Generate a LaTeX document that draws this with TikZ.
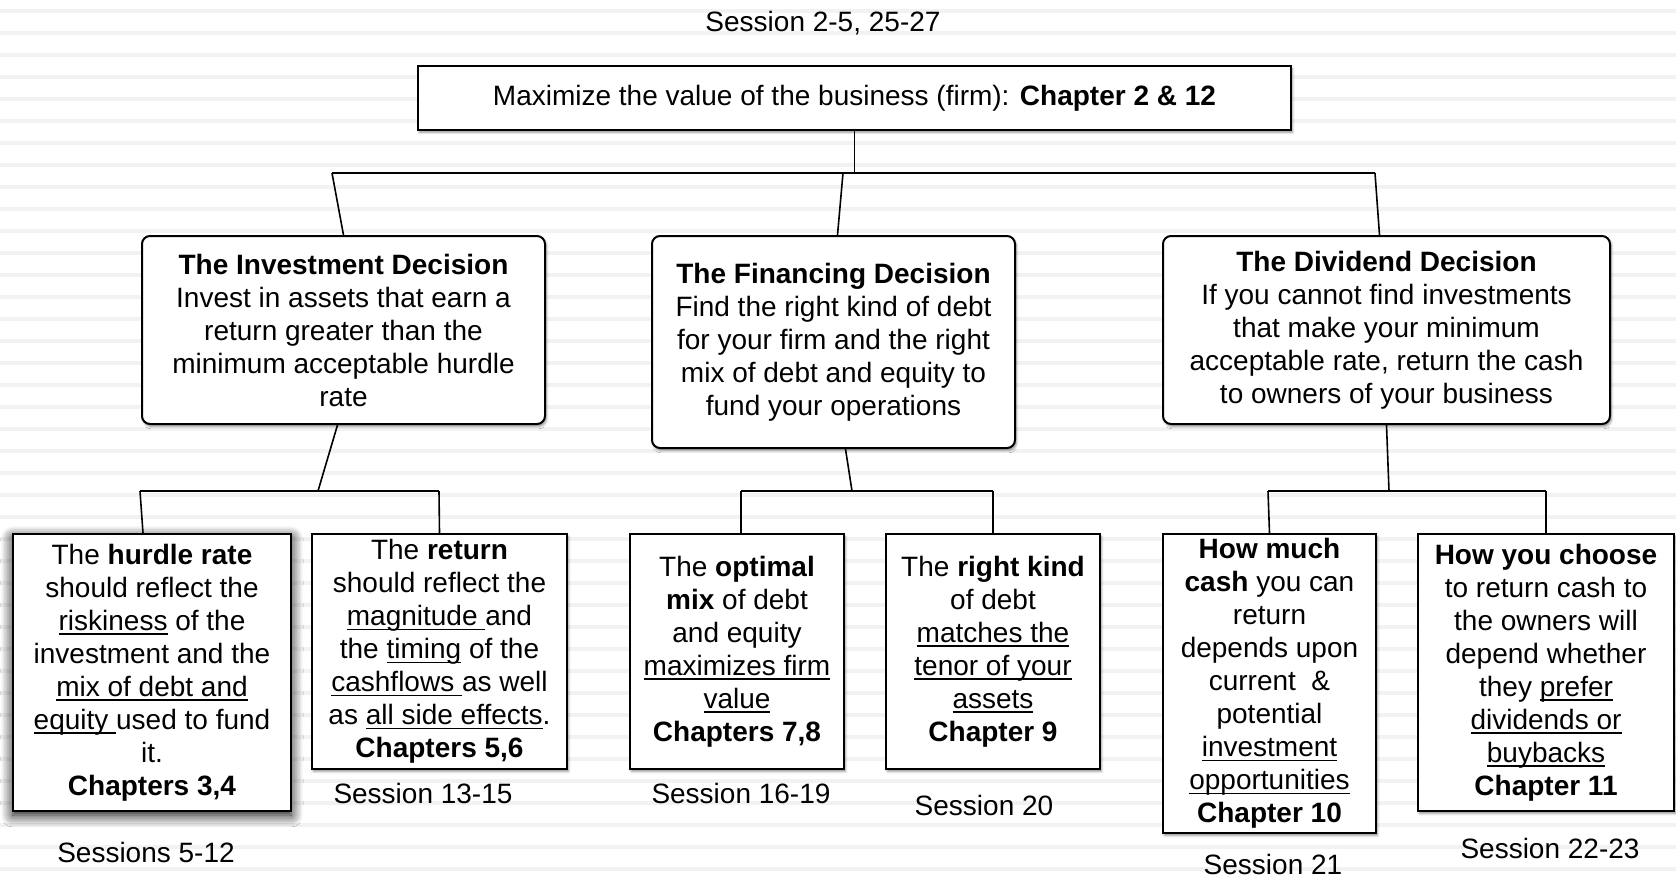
\documentclass[tikz,border=0pt]{standalone}
\usepackage{fontspec}
\setmainfont{Liberation Sans}
\usetikzlibrary{shadows.blur}

\newcommand{\sotto}[1]{\setbox0=\hbox{#1}\rlap{\rule[-2.2pt]{\wd0}{0.8pt}}\box0\relax}

\tikzset{
    testo/.style={font=\fontsize{14pt}{16.5pt}\selectfont, align=center, inner sep=0pt},
    box/.style={testo, draw, fill=white, line width=1pt},
    ombra/.style={blur shadow={shadow xshift=0.7pt, shadow yshift=-1.2pt, shadow blur radius=1.2pt, shadow opacity=45}},
    capitolo/.style={box, ombra},
    decisione/.style={box, ombra, rounded corners=4pt},
    alone/.style={box, blur shadow={shadow xshift=0pt, shadow yshift=-2pt, shadow blur radius=6pt, shadow blur steps=8, shadow opacity=100}},
    arco/.style={line width=0.8pt},
    rigo/.style={line width=2pt, black!5}
}

\begin{document}
\begin{tikzpicture}[x=0.5pt, y=-0.5pt]
        \useasboundingbox (0,0) rectangle (1676,880);

        %%%%%%%%%% Sfondo %%%%%%%%%%
        \foreach \y in {11,33,...,880}
            \draw[rigo] (0,\y) -- (1676,\y);

        %%%%%%%%%% Nodi %%%%%%%%%%
        \node[testo] (S0) at (823,23) {Session 2-5, 25-27};
        \node[capitolo, minimum width=436.5pt, minimum height=31.75pt] (M) at (854.5,98)
            {Maximize the value of the business (firm): \textbf{Chapter 2 \& 12}};

        \node[decisione, minimum width=201.5pt, minimum height=94pt] (I) at (343.5,330)
            {\textbf{The Investment Decision}\\Invest in assets that earn a\\return greater than the\\minimum acceptable hurdle\\rate};
        \node[decisione, minimum width=181.5pt, minimum height=106pt] (F) at (833.5,342)
            {\textbf{The Financing Decision}\\Find the right kind of debt\\for your firm and the right\\mix of debt and equity to\\fund your operations};
        \node[decisione, minimum width=223.5pt, minimum height=94pt] (D) at (1386.5,330)
            {\textbf{The Dividend Decision}\\If you cannot find investments\\that make your minimum\\acceptable rate, return the cash\\to owners of your business};

        \node[alone, minimum width=139pt, minimum height=138.5pt] (I1) at (152,672.5)
            {The \textbf{hurdle rate}\\should reflect the\\\sotto{riskiness} of the\\investment and the\\\sotto{mix of debt and}\\\sotto{equity }used to fund\\it.\\\textbf{Chapters 3,4}};
        \node[capitolo, minimum width=127.5pt, minimum height=117.5pt] (I2) at (439.5,651.5)
            {The \textbf{return}\\should reflect the\\\sotto{magnitude }and\\the \sotto{timing} of the\\\sotto{cashflows }as well\\as \sotto{all side effects}.\\\textbf{Chapters 5,6}};
        \node[capitolo, minimum width=107pt, minimum height=117.5pt] (F1) at (737,651.5)
            {The \textbf{optimal}\\\textbf{mix} of debt\\and equity\\\sotto{maximizes firm}\\\sotto{value}\\\textbf{Chapters 7,8}};
        \node[capitolo, minimum width=107pt, minimum height=117.5pt] (F2) at (993,651.5)
            {The \textbf{right kind}\\of debt\\\sotto{matches the}\\\sotto{tenor of your}\\\sotto{assets}\\\textbf{Chapter 9}};
        \node[capitolo, minimum width=106.5pt, minimum height=149.5pt] (D1) at (1269.5,683.5)
            {\textbf{How much}\\\textbf{cash} you can\\return\\depends upon\\current\ \ \&\\potential\\\sotto{investment}\\\sotto{opportunities}\\\textbf{Chapter 10}};
        \node[capitolo, minimum width=128pt, minimum height=138.5pt] (D2) at (1546,672.5)
            {\textbf{How you choose}\\to return cash to\\the owners will\\depend whether\\they \sotto{prefer}\\\sotto{dividends or}\\\sotto{buybacks}\\\textbf{Chapter 11}};

        \node[testo] (S1) at (146,852) {Sessions 5-12};
        \node[testo] (S2) at (423,793) {Session 13-15};
        \node[testo] (S3) at (741,793) {Session 16-19};
        \node[testo] (S4) at (984,805) {Session 20};
        \node[testo] (S5) at (1273,864) {Session 21};
        \node[testo] (S6) at (1550,848) {Session 22-23};

        %%%%%%%%% Archi %%%%%%%%%%
        \coordinate (TL) at (332,173);
        \coordinate (TM) at (843,173);
        \coordinate (TR) at (1375,173);
        \draw[arco] (M.south) -- (M.south |- TL);
        \draw[arco] (TL) -- (TR);
        \draw[arco] (TL) -- (I.north);
        \draw[arco] (TM) -- ([xshift=2pt]F.north);
        \draw[arco] (TR) -- ([xshift=-3.5pt]D.north);

        \coordinate (IL) at (140,491);
        \coordinate (IM) at (318,491);
        \coordinate (IR) at (439,491);
        \draw[arco] ([xshift=-3pt]I.south) -- (IM);
        \draw[arco] (IL) -- (IR);
        \draw[arco] (IL) -- ([xshift=-4.5pt]I1.north);
        \draw[arco] (IR) -- (I2.north);

        \coordinate (FL) at (741,491);
        \coordinate (FM) at (852,491);
        \coordinate (FR) at (993,491);
        \draw[arco] ([xshift=6pt]F.south) -- (FM);
        \draw[arco] (FL) -- (FR);
        \draw[arco] (FL) -- ([xshift=2pt]F1.north);
        \draw[arco] (FR) -- (F2.north);

        \coordinate (DL) at (1268,491);
        \coordinate (DM) at (1389,491);
        \coordinate (DR) at (1546,491);
        \draw[arco] (D.south) -- (DM);
        \draw[arco] (DL) -- (DR);
        \draw[arco] (DL) -- (D1.north);
        \draw[arco] (DR) -- (D2.north);
    \end{tikzpicture}
\end{document}
